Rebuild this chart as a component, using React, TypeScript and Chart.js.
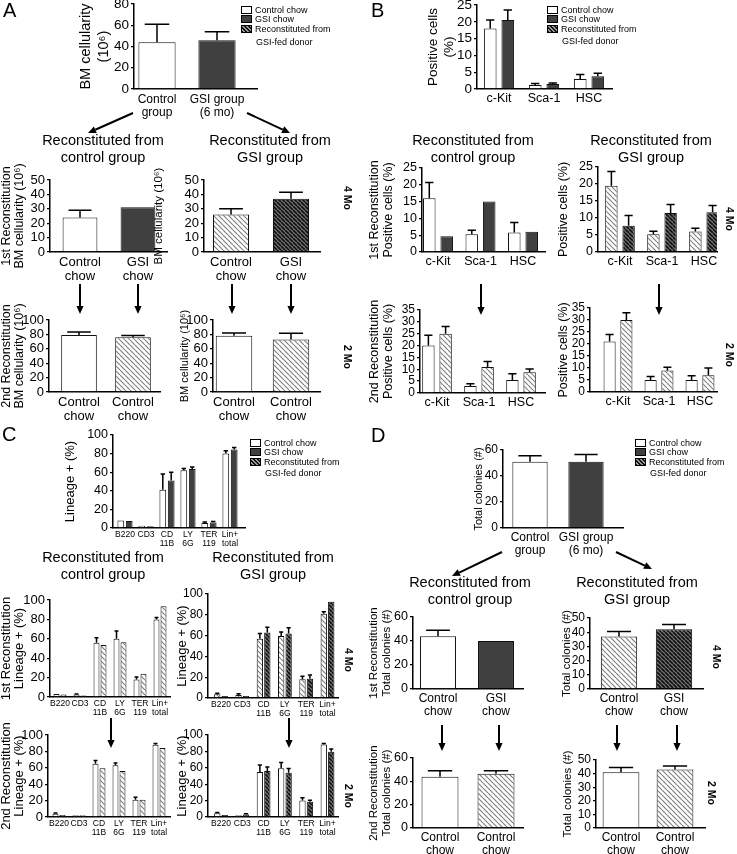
import React, { useEffect, useRef } from "react";
import { Chart, registerables } from "chart.js";

Chart.register(...registerables);

const FONT = "'Liberation Sans', Arial, Helvetica, sans-serif";
Chart.defaults.font.family = FONT;
Chart.defaults.color = "#000";

// ===== categories / tick labels =====
const donorGroups = [["Control", "group"], ["GSI group", "(6 mo)"]];
const firstRecipients = [["Control", "chow"], ["GSI", "chow"]];
const secondRecipients = [["Control", "chow"], ["Control", "chow"]];
const markers = ["c-Kit", "Sca-1", "HSC"];
const lineages = [["B220"], ["CD3"], ["CD", "11B"], ["LY", "6G"], ["TER", "119"], ["Lin+", "total"]];
const legendLabels = ["Control chow", "GSI chow", "Reconstituted from", "GSI-fed donor"];

// ===== A: BM cellularity (10^6) =====
const aDonorMean = [44, 46];
const aDonorSem = [17, 8];
const aCtl1Mean = [24, 31];
const aCtl1Sem = [5, 0];
const aGsi1Mean = [26, 37];
const aGsi1Sem = [4, 4.5];
const aCtl2Mean = [79, 76];
const aCtl2Sem = [4.5, 2.5];
const aGsi2Mean = [78, 73];
const aGsi2Sem = [4, 8.5];

// ===== B: positive cells (%) =====
const bDonorControl = [18, 1.2, 3];
const bDonorControlSem = [2.5, 0.4, 1.3];
const bDonorGsi = [20.5, 1.5, 3.8];
const bDonorGsiSem = [3, 0.3, 0.9];
const bCtl1Control = [16, 5.3, 5.8];
const bCtl1ControlSem = [4.7, 1.2, 3];
const bCtl1Gsi = [4.7, 15, 6];
const bCtl1GsiSem = [0, 0, 0];
const bGsi1Control = [19.5, 5.2, 6];
const bGsi1ControlSem = [4.2, 0.9, 1];
const bGsi1Gsi = [7.7, 11.5, 11.7];
const bGsi1GsiSem = [3, 2.5, 2];
const bCtl2Control = [20, 3, 5.5];
const bCtl2ControlSem = [4.3, 0.9, 2.6];
const bCtl2Hatch = [25, 11, 8.8];
const bCtl2HatchSem = [3, 2.3, 1.3];
const bGsi2Control = [21, 5, 5];
const bGsi2ControlSem = [3, 1.5, 1.8];
const bGsi2Hatch = [30, 9, 7];
const bGsi2HatchSem = [3, 1.3, 3];

// ===== C: lineage + (%) =====
const cDonorControl = [8, 2.5, 41, 62, 5.5, 80];
const cDonorControlSem = [0, 0, 17, 2, 1, 3];
const cDonorGsi = [7.5, 2, 51, 63.5, 6, 84.5];
const cDonorGsiSem = [0, 0, 9, 2, 1, 2];
const cCtl1Control = [3, 2.5, 56, 60, 18, 80];
const cCtl1ControlSem = [0, 0.5, 5, 8, 2.5, 2];
const cCtl1Gsi = [2.5, 1.5, 53.5, 56.5, 24, 93.5];
const cCtl1GsiSem = [0, 0, 0, 0, 0, 0];
const cGsi1Control = [3.5, 3, 57, 59.5, 18, 81];
const cGsi1ControlSem = [1, 1, 5, 4, 3, 2];
const cGsi1Gsi = [2, 2, 63, 62, 18.5, 92.5];
const cGsi1GsiSem = [0, 0, 5, 5.5, 3.5, 0];
const cCtl2Control = [4, 2, 65, 63, 21, 88];
const cCtl2ControlSem = [1, 0, 4, 3, 3, 1.5];
const cCtl2Hatch = [2.5, 2, 59.5, 56, 21, 84];
const cCtl2HatchSem = [0, 0, 0, 0, 0, 0];
const cGsi2Control = [4.5, 2, 55, 59.5, 20, 88.5];
const cGsi2ControlSem = [1, 0, 8.5, 7, 3.5, 1];
const cGsi2Hatch = [2.5, 3, 56, 54, 18.5, 79.5];
const cGsi2HatchSem = [0, 1, 5, 5, 2, 3.5];

// ===== D: total colonies (#) =====
const dDonorMean = [51, 51];
const dDonorSem = [4.5, 5.5];
const dCtl1Mean = [44, 40];
const dCtl1Sem = [5, 0];
const dGsi1Mean = [37, 42];
const dGsi1Sem = [3.5, 3.5];
const dCtl2Mean = [44, 46.5];
const dCtl2Sem = [5, 2.5];
const dGsi2Mean = [41, 43];
const dGsi2Sem = [3.5, 2.5];

type Kind = "white" | "dark" | "light" | "darkHatch";
type Series = { values: number[]; errors: number[]; kinds: Kind | Kind[] };
type Spec = {
  id: string;
  labels: (string | string[])[];
  series: Series[];
  yMax: number;
  yStep: number;
  L: number; R: number; T: number; B: number;
  c1: number; s: number; tx: number; xh: number;
  yTitle: string[]; titleSize: number; titleLH: number;
  tickSize: number; xSize: number; cp: number; bp: number; xPad: number;
};

const charts: Spec[] = [
  // ---- A ----
  { id: "a0", labels: donorGroups, series: [{ values: aDonorMean, errors: aDonorSem, kinds: ["white", "dark"] }],
    yMax: 80, yStep: 20, L: 134, R: 257, T: 4, B: 89, c1: 157, s: 60, tx: 77, xh: 34,
    yTitle: ["BM cellularity", "(10\u2076)"], titleSize: 14.5, titleLH: 1.25, tickSize: 13.5, xSize: 12, cp: 1, bp: 0.62, xPad: 4 },
  { id: "a1l", labels: firstRecipients, series: [{ values: aCtl1Mean, errors: aCtl1Sem, kinds: ["white", "dark"] }],
    yMax: 50, yStep: 10, L: 50, R: 167, T: 180, B: 252, c1: 80, s: 58, tx: 0, xh: 34,
    yTitle: ["1st Reconstitution", "BM cellularity (10\u2076)"], titleSize: 12.5, titleLH: 1.05, tickSize: 13, xSize: 13, cp: 1, bp: 0.6, xPad: 3 },
  { id: "a1r", labels: firstRecipients, series: [{ values: aGsi1Mean, errors: aGsi1Sem, kinds: ["light", "darkHatch"] }],
    yMax: 50, yStep: 10, L: 204, R: 320, T: 180, B: 252, c1: 231, s: 60, tx: 153, xh: 34,
    yTitle: ["BM cellularity (10\u2076)"], titleSize: 11.5, titleLH: 1.05, tickSize: 13, xSize: 13, cp: 1, bp: 0.6, xPad: 3 },
  { id: "a2l", labels: secondRecipients, series: [{ values: aCtl2Mean, errors: aCtl2Sem, kinds: ["white", "light"] }],
    yMax: 100, yStep: 20, L: 49, R: 160, T: 320, B: 392, c1: 79, s: 54, tx: 0, xh: 34,
    yTitle: ["2nd Reconstitution", "BM cellularity (10\u2076)"], titleSize: 12.5, titleLH: 1.05, tickSize: 13, xSize: 13, cp: 1, bp: 0.66, xPad: 3 },
  { id: "a2r", labels: secondRecipients, series: [{ values: aGsi2Mean, errors: aGsi2Sem, kinds: ["white", "light"] }],
    yMax: 100, yStep: 20, L: 213, R: 320, T: 320, B: 392, c1: 234, s: 57, tx: 179, xh: 34,
    yTitle: ["BM cellularity (10\u2076)"], titleSize: 11, titleLH: 1.05, tickSize: 13, xSize: 13, cp: 1, bp: 0.64, xPad: 3 },
  // ---- B ----
  { id: "b0", labels: markers, series: [
      { values: bDonorControl, errors: bDonorControlSem, kinds: "white" },
      { values: bDonorGsi, errors: bDonorGsiSem, kinds: "dark" }],
    yMax: 25, yStep: 5, L: 477, R: 612, T: 5, B: 89, c1: 499, s: 45, tx: 426, xh: 20,
    yTitle: ["Positive cells", "(%)"], titleSize: 13.5, titleLH: 1.15, tickSize: 13.5, xSize: 12.5, cp: 0.78, bp: 0.72, xPad: 3 },
  { id: "b1l", labels: markers, series: [
      { values: bCtl1Control, errors: bCtl1ControlSem, kinds: "white" },
      { values: bCtl1Gsi, errors: bCtl1GsiSem, kinds: "dark" }],
    yMax: 25, yStep: 5, L: 422, R: 545, T: 168, B: 252, c1: 438, s: 42.5, tx: 368, xh: 22,
    yTitle: ["1st Reconstitution", "Positive cells (%)"], titleSize: 12.5, titleLH: 1.1, tickSize: 12.5, xSize: 12.5, cp: 0.82, bp: 0.72, xPad: 3 },
  { id: "b1r", labels: markers, series: [
      { values: bGsi1Control, errors: bGsi1ControlSem, kinds: "light" },
      { values: bGsi1Gsi, errors: bGsi1GsiSem, kinds: "darkHatch" }],
    yMax: 25, yStep: 5, L: 598, R: 717, T: 167, B: 252, c1: 620, s: 42, tx: 557, xh: 22,
    yTitle: ["Positive cells (%)"], titleSize: 12.5, titleLH: 1.1, tickSize: 12.5, xSize: 12.5, cp: 0.82, bp: 0.72, xPad: 3 },
  { id: "b2l", labels: markers, series: [
      { values: bCtl2Control, errors: bCtl2ControlSem, kinds: "white" },
      { values: bCtl2Hatch, errors: bCtl2HatchSem, kinds: "light" }],
    yMax: 35, yStep: 5, L: 420, R: 545, T: 310, B: 393, c1: 437, s: 42, tx: 368, xh: 22,
    yTitle: ["2nd Reconstitution", "Positive cells (%)"], titleSize: 12.5, titleLH: 1.1, tickSize: 12, xSize: 12.5, cp: 0.82, bp: 0.72, xPad: 3 },
  { id: "b2r", labels: markers, series: [
      { values: bGsi2Control, errors: bGsi2ControlSem, kinds: "white" },
      { values: bGsi2Hatch, errors: bGsi2HatchSem, kinds: "light" }],
    yMax: 35, yStep: 5, L: 590, R: 717, T: 308, B: 392, c1: 618, s: 41, tx: 557, xh: 22,
    yTitle: ["Positive cells (%)"], titleSize: 12.5, titleLH: 1.1, tickSize: 12, xSize: 12.5, cp: 0.82, bp: 0.72, xPad: 3 },
  // ---- C ----
  { id: "c0", labels: lineages, series: [
      { values: cDonorControl, errors: cDonorControlSem, kinds: "white" },
      { values: cDonorGsi, errors: cDonorGsiSem, kinds: "dark" }],
    yMax: 100, yStep: 20, L: 113, R: 245, T: 435, B: 528, c1: 125, s: 21, tx: 63, xh: 26,
    yTitle: ["Lineage + (%)"], titleSize: 13, titleLH: 1.1, tickSize: 12.5, xSize: 8.5, cp: 0.8, bp: 0.8, xPad: 2 },
  { id: "c1l", labels: lineages, series: [
      { values: cCtl1Control, errors: cCtl1ControlSem, kinds: "white" },
      { values: cCtl1Gsi, errors: cCtl1GsiSem, kinds: "light" }],
    yMax: 100, yStep: 20, L: 50, R: 170, T: 600, B: 697, c1: 60, s: 20, tx: 0, xh: 26,
    yTitle: ["1st Reconstitution", "Lineage + (%)"], titleSize: 13, titleLH: 1.0, tickSize: 13, xSize: 8.5, cp: 0.7, bp: 0.85, xPad: 2 },
  { id: "c1r", labels: lineages, series: [
      { values: cGsi1Control, errors: cGsi1ControlSem, kinds: "light" },
      { values: cGsi1Gsi, errors: cGsi1GsiSem, kinds: "darkHatch" }],
    yMax: 100, yStep: 20, L: 208, R: 338, T: 594, B: 698, c1: 221, s: 21.3, tx: 176, xh: 26,
    yTitle: ["Lineage + (%)"], titleSize: 13, titleLH: 1.0, tickSize: 12, xSize: 8.5, cp: 0.7, bp: 0.85, xPad: 2 },
  { id: "c2l", labels: lineages, series: [
      { values: cCtl2Control, errors: cCtl2ControlSem, kinds: "white" },
      { values: cCtl2Hatch, errors: cCtl2HatchSem, kinds: "light" }],
    yMax: 100, yStep: 20, L: 48, R: 170, T: 735, B: 817, c1: 59, s: 20, tx: 0, xh: 34,
    yTitle: ["2nd Reconstitution", "Lineage + (%)"], titleSize: 13, titleLH: 1.0, tickSize: 13, xSize: 8.5, cp: 0.7, bp: 0.85, xPad: 2 },
  { id: "c2r", labels: lineages, series: [
      { values: cGsi2Control, errors: cGsi2ControlSem, kinds: "white" },
      { values: cGsi2Hatch, errors: cGsi2HatchSem, kinds: "darkHatch" }],
    yMax: 100, yStep: 20, L: 208, R: 338, T: 735, B: 817, c1: 221, s: 21.3, tx: 176, xh: 34,
    yTitle: ["Lineage + (%)"], titleSize: 13, titleLH: 1.0, tickSize: 12, xSize: 8.5, cp: 0.7, bp: 0.85, xPad: 2 },
  // ---- D ----
  { id: "d0", labels: donorGroups, series: [{ values: dDonorMean, errors: dDonorSem, kinds: ["white", "dark"] }],
    yMax: 60, yStep: 20, L: 503, R: 623, T: 450, B: 528, c1: 530, s: 56, tx: 473, xh: 34,
    yTitle: ["Total colonies (#)"], titleSize: 11, titleLH: 1.1, tickSize: 12, xSize: 12, cp: 1, bp: 0.63, xPad: 3 },
  { id: "d1l", labels: firstRecipients, series: [{ values: dCtl1Mean, errors: dCtl1Sem, kinds: ["white", "dark"] }],
    yMax: 60, yStep: 20, L: 413, R: 523, T: 617, B: 689, c1: 438, s: 58, tx: 368, xh: 34,
    yTitle: ["1st Reconstitution", "Total colonies (#)"], titleSize: 11.5, titleLH: 1.1, tickSize: 12.5, xSize: 12, cp: 1, bp: 0.62, xPad: 3 },
  { id: "d1r", labels: firstRecipients, series: [{ values: dGsi1Mean, errors: dGsi1Sem, kinds: ["light", "darkHatch"] }],
    yMax: 50, yStep: 10, L: 590, R: 703, T: 618, B: 689, c1: 619, s: 55, tx: 561, xh: 34,
    yTitle: ["Total colonies (#)"], titleSize: 11.5, titleLH: 1.1, tickSize: 12, xSize: 12, cp: 1, bp: 0.66, xPad: 3 },
  { id: "d2l", labels: secondRecipients, series: [{ values: dCtl2Mean, errors: dCtl2Sem, kinds: ["white", "light"] }],
    yMax: 60, yStep: 20, L: 413, R: 523, T: 758, B: 828, c1: 440, s: 56, tx: 368, xh: 26,
    yTitle: ["2nd Reconstitution", "Total colonies (#)"], titleSize: 11.5, titleLH: 1.1, tickSize: 12.5, xSize: 12, cp: 1, bp: 0.66, xPad: 3 },
  { id: "d2r", labels: secondRecipients, series: [{ values: dGsi2Mean, errors: dGsi2Sem, kinds: ["white", "light"] }],
    yMax: 50, yStep: 10, L: 596, R: 705, T: 760, B: 828, c1: 621, s: 54, tx: 562, xh: 26,
    yTitle: ["Total colonies (#)"], titleSize: 11.5, titleLH: 1.1, tickSize: 12, xSize: 12, cp: 1, bp: 0.68, xPad: 3 },
];

// ===== annotations =====
const panelLetters = [
  { t: "A", x: 3, y: 0 }, { t: "B", x: 371, y: 0 }, { t: "C", x: 2, y: 424 }, { t: "D", x: 371, y: 425 },
];
const sectionTitles = [
  { x: 103, y: 140, lines: ["Reconstituted from", "control group"] },
  { x: 270, y: 140, lines: ["Reconstituted from", "GSI group"] },
  { x: 473, y: 140, lines: ["Reconstituted from", "control group"] },
  { x: 651, y: 140, lines: ["Reconstituted from", "GSI group"] },
  { x: 103, y: 557, lines: ["Reconstituted from", "control group"] },
  { x: 273, y: 557, lines: ["Reconstituted from", "GSI group"] },
  { x: 470, y: 582, lines: ["Reconstituted from", "control group"] },
  { x: 637, y: 582, lines: ["Reconstituted from", "GSI group"] },
];
const timeLabels = [
  { t: "4 Mo", x: 348, y: 198 }, { t: "2 Mo", x: 348, y: 357 },
  { t: "4 Mo", x: 730, y: 219 }, { t: "2 Mo", x: 730, y: 355 },
  { t: "4 Mo", x: 349, y: 660 }, { t: "2 Mo", x: 349, y: 796 },
  { t: "4 Mo", x: 717, y: 657 }, { t: "2 Mo", x: 712, y: 793 },
];
const arrows = [
  [133, 113, 88, 133], [247, 113, 290, 133],
  [80, 284, 80, 314], [138, 284, 138, 314], [232, 284, 232, 314], [291, 284, 291, 314],
  [481, 284, 481, 315], [659, 284, 659, 315],
  [111, 718, 111, 748], [289, 718, 289, 748],
  [502, 552, 452, 576], [616, 552, 652, 569],
  [442, 725, 442, 751], [499, 725, 499, 751], [617, 725, 617, 751], [677, 725, 677, 751],
];
const legends = [
  { x: 241, rows: [10, 19, 29, 42] },
  { x: 547, rows: [10, 19, 28.5, 41] },
  { x: 250, rows: [443, 452, 462, 473] },
  { x: 635, rows: [443, 452, 462, 473] },
];

const PAD_T = 30;
const PAD_R = 14;

function makeHatch(bg: string, fg: string, size: number, lw: number) {
  const c = document.createElement("canvas");
  c.width = size;
  c.height = size;
  const g = c.getContext("2d")!;
  g.fillStyle = bg;
  g.fillRect(0, 0, size, size);
  g.strokeStyle = fg;
  g.lineWidth = lw;
  g.beginPath();
  for (const k of [-size, 0, size]) {
    g.moveTo(k, 0);
    g.lineTo(k + size, size);
  }
  g.stroke();
  return g.createPattern(c, "repeat")!;
}

const errorBars = {
  id: "errorBars",
  afterDatasetsDraw(chart: any) {
    const { ctx } = chart;
    const yScale = chart.scales.y;
    chart.data.datasets.forEach((ds: any, di: number) => {
      const meta = chart.getDatasetMeta(di);
      meta.data.forEach((el: any, j: number) => {
        const err = ds.errors ? ds.errors[j] : 0;
        if (!err) return;
        const v = ds.data[j].y;
        const top = yScale.getPixelForValue(v + err);
        const base = yScale.getPixelForValue(v);
        const half = el.width * 0.33;
        ctx.save();
        ctx.strokeStyle = "#000";
        ctx.lineWidth = 1.5;
        ctx.beginPath();
        ctx.moveTo(el.x, base);
        ctx.lineTo(el.x, top);
        ctx.moveTo(el.x - half, top);
        ctx.lineTo(el.x + half, top);
        ctx.stroke();
        ctx.restore();
      });
    });
  },
};

function BarChart({ spec }: { spec: Spec }) {
  const ref = useRef<HTMLCanvasElement>(null);
  const top = spec.T - PAD_T;
  const width = Math.round(spec.R + PAD_R - spec.tx);
  const height = Math.round(spec.B + spec.xh - top);
  useEffect(() => {
    const pats: Record<Kind, any> = {
      white: "#ffffff",
      dark: "#404040",
      light: makeHatch("#ffffff", "#7c7c7c", 5, 1.1),
      darkHatch: makeHatch("#777777", "#111111", 4, 1.7),
    };
    const n = spec.labels.length;
    const xmin = 1 - (spec.c1 - spec.L) / spec.s;
    const xmax = 1 + (spec.R - spec.c1) / spec.s;
    const chart = new Chart(ref.current!, {
      type: "bar",
      data: {
        datasets: spec.series.map((se) => ({
          data: se.values.map((v, i) => ({ x: i + 1, y: v })),
          errors: se.errors,
          backgroundColor: Array.isArray(se.kinds) ? se.kinds.map((k) => pats[k]) : pats[se.kinds],
          borderColor: "#111",
          borderWidth: 1,
          categoryPercentage: spec.cp,
          barPercentage: spec.bp,
        })) as any,
      },
      options: {
        responsive: false,
        animation: false,
        devicePixelRatio: 1,
        layout: { padding: { top: PAD_T, right: PAD_R, left: 0, bottom: 0 } },
        plugins: { legend: { display: false }, tooltip: { enabled: false } },
        scales: {
          x: {
            type: "linear",
            min: xmin,
            max: xmax,
            bounds: "data",
            offset: false,
            grid: { display: false, drawTicks: false, offset: false },
            border: { display: true, color: "#000", width: 1.5 },
            ticks: {
              autoSkip: false,
              maxRotation: 0,
              minRotation: 0,
              padding: spec.xPad,
              color: "#000",
              font: { size: spec.xSize, family: FONT, lineHeight: 1.1 },
              callback: (v: any) => spec.labels[Math.round(Number(v)) - 1] ?? "",
            },
            afterBuildTicks: (sc: any) => {
              sc.ticks = Array.from({ length: n }, (_, i) => ({ value: i + 1 }));
            },
            afterFit: (sc: any) => {
              sc.height = spec.xh;
            },
          } as any,
          y: {
            type: "linear",
            min: 0,
            max: spec.yMax,
            ticks: {
              stepSize: spec.yStep,
              autoSkip: false,
              padding: 2,
              color: "#000",
              font: { size: spec.tickSize, family: FONT },
            },
            grid: { display: true, drawOnChartArea: false, drawTicks: true, tickLength: 3, color: "#000", lineWidth: 1.3 },
            border: { display: true, color: "#000", width: 1.5 },
            title: {
              display: true,
              text: spec.yTitle,
              color: "#000",
              padding: 0,
              font: { size: spec.titleSize, family: FONT, lineHeight: spec.titleLH },
            },
            afterFit: (sc: any) => {
              sc.width = spec.L - spec.tx;
            },
          } as any,
        },
      },
      plugins: [errorBars as any],
    });
    return () => chart.destroy();
  }, [spec]);
  return (
    <canvas
      ref={ref}
      width={width}
      height={height}
      style={{ position: "absolute", left: spec.tx, top, width, height }}
    />
  );
}

function Legend({ x, rows }: { x: number; rows: number[] }) {
  const sw: React.CSSProperties[] = [
    { background: "#fff" },
    { background: "#404040" },
    { background: "repeating-linear-gradient(45deg, #111 0px, #111 1.3px, #9a9a9a 1.3px, #9a9a9a 2.8px)" },
  ];
  return (
    <>
      {legendLabels.map((t, i) => (
        <div key={t} style={{ position: "absolute", left: x, top: rows[i] - 6, height: 12, display: "flex", alignItems: "center", fontSize: 9, whiteSpace: "nowrap" }}>
          {i < 3 ? (
            <span style={{ display: "inline-block", width: 9, height: 6, border: "1px solid #000", marginRight: 3, ...sw[i] }} />
          ) : (
            <span style={{ display: "inline-block", width: 15 }} />
          )}
          <span>{t}</span>
        </div>
      ))}
    </>
  );
}

function Arrow({ a }: { a: number[] }) {
  const [x1, y1, x2, y2] = a;
  const dx = x2 - x1, dy = y2 - y1;
  const len = Math.hypot(dx, dy);
  const ux = dx / len, uy = dy / len;
  const hl = 8, hw = 3.6;
  const bx = x2 - ux * hl, by = y2 - uy * hl;
  const pts = `${x2},${y2} ${bx - uy * hw},${by + ux * hw} ${bx + uy * hw},${by - ux * hw}`;
  return (
    <g>
      <line x1={x1} y1={y1} x2={bx} y2={by} stroke="#000" strokeWidth={2} />
      <polygon points={pts} fill="#000" />
    </g>
  );
}

export default function App() {
  return (
    <div style={{ position: "absolute", left: 0, top: 0, width: 737, height: 854, background: "#fff", fontFamily: FONT, color: "#000", overflow: "hidden" }}>
      {charts.map((c) => (
        <BarChart key={c.id} spec={c} />
      ))}
      <svg width={737} height={854} style={{ position: "absolute", left: 0, top: 0, pointerEvents: "none" }}>
        {arrows.map((a, i) => (
          <Arrow key={i} a={a} />
        ))}
      </svg>
      {panelLetters.map((p) => (
        <div key={p.t} style={{ position: "absolute", left: p.x, top: p.y, fontSize: 20, lineHeight: "20px" }}>{p.t}</div>
      ))}
      {sectionTitles.map((s, i) => (
        <div key={i} style={{ position: "absolute", left: s.x - 100, width: 200, top: s.y - 8.5, textAlign: "center", fontSize: 14.5, lineHeight: "17px" }}>
          {s.lines.map((l) => (
            <div key={l}>{l}</div>
          ))}
        </div>
      ))}
      {timeLabels.map((t, i) => (
        <div key={i} style={{ position: "absolute", left: t.x, top: t.y, transform: "translate(-50%, -50%) rotate(90deg)", fontWeight: "bold", fontSize: 10.5, whiteSpace: "nowrap" }}>{t.t}</div>
      ))}
      {legends.map((l, i) => (
        <Legend key={i} x={l.x} rows={l.rows} />
      ))}
    </div>
  );
}
